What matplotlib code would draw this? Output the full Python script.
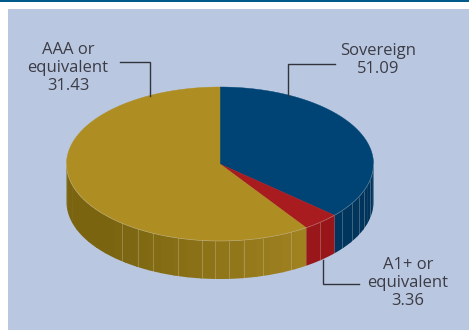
import numpy as np
import matplotlib
matplotlib.use('Agg')
import matplotlib.pyplot as plt
from matplotlib.colors import to_rgb
from matplotlib.patches import Polygon, Rectangle

plt.rcParams['font.family'] = ['Open Sans', 'DejaVu Sans']

# wedge order runs clockwise from 12 o'clock
wedge_values = [31.43, 3.36, 51.09]
wedge_names = ['blue', 'red', 'gold']
label_text = ['AAA or\nequivalent\n31.43', 'Sovereign\n51.09', 'A1+ or\nequivalent\n3.36']

top_colors = {'blue': '#004476', 'red': '#a81c20', 'gold': '#ae8d22'}
side_left = {'blue': '#003f6e', 'red': '#a3191d', 'gold': '#7a6410'}
side_right = {'blue': '#00345c', 'red': '#96161a', 'gold': '#a08220'}

# disc geometry in pixels
cx, cy = 220, 164
rx, ry = 153.5, 77
depth = 38

W, H = 469, 330
fig = plt.figure(figsize=(W/100, H/100), dpi=100, facecolor='white')
ax = fig.add_axes([0, 0, 1, 1])
ax.set_xlim(0, W)
ax.set_ylim(H, 0)
ax.axis('off')

ax.add_patch(Rectangle((0, 0), W, 2, color='#005a8c', lw=0))
ax.add_patch(Rectangle((8, 9), W-8, H-9, color='#b9c8e0', lw=0))

def rim(theta):
    # theta is clockwise from 12 o'clock, in degrees
    t = np.radians(theta)
    return cx + rx*np.sin(t), cy - ry*np.cos(t)

shares = np.array(wedge_values)/sum(wedge_values)*360
edges = np.concatenate([[0], np.cumsum(shares)])

# side wall: flat bands, each one overlapping the next so no gaps show.
# Walks the gold from the left end so the shade drifts across the front.
for i, name in enumerate(wedge_names):
    a0, a1 = max(edges[i], 90), min(edges[i+1], 270)
    if a1 <= a0:
        continue
    n_bands = max(int((a1-a0)/5), 1)
    steps = np.linspace(a0, a1, n_bands+1)
    order = range(n_bands) if name != 'gold' else range(n_bands-1, -1, -1)
    for b in order:
        s0, s1 = steps[b], steps[b+1]
        if name == 'gold':
            s0 = max(s0-0.6, a0)
        else:
            s1 = min(s1+0.6, a1)
        th = np.linspace(s0, s1, 12)
        xs, ys = rim(th)
        xm = xs.mean()
        f = (xm - (cx-rx))/(2*rx)
        if name == 'gold':
            f = np.clip((xm-110)/(307-110), 0, 1)
        col = (1-f)*np.array(to_rgb(side_left[name])) + f*np.array(to_rgb(side_right[name]))
        pts = np.column_stack([np.r_[xs, xs[::-1]], np.r_[ys, ys[::-1]+depth]])
        ax.add_patch(Polygon(pts, closed=True, fc=col, ec='none', lw=0))

# facet seams on the wall
seam_x = [122, 138, 153, 178, 202, 215, 229, 244, 263, 291, 320, 342, 352, 359, 364, 370]
for x in seam_x:
    t = np.arcsin((x-cx)/rx)
    y = cy + ry*np.cos(t)
    ax.plot([x, x], [y, y+depth], color='#d8d4c0', lw=0.6, alpha=0.35, solid_capstyle='butt')

# top face
for i, name in enumerate(wedge_names):
    th = np.linspace(edges[i], edges[i+1], 200)
    xs, ys = rim(th)
    pts = np.column_stack([np.r_[cx, xs], np.r_[cy, ys]])
    ax.add_patch(Polygon(pts, closed=True, fc=top_colors[name], ec=top_colors[name], lw=0.3))

# pale rim highlight along the front edge
xs, ys = rim(np.linspace(90, 270, 300))
ax.plot(xs, ys, color='#d0ccc0', lw=0.5, alpha=0.4)

# leader lines
line_col = '#33333b'
ax.plot([120, 149.5, 149.5], [62, 62, 96], color=line_col, lw=1.0, solid_joinstyle='miter')
ax.plot([335, 288, 288], [64, 64, 96], color=line_col, lw=1.0, solid_joinstyle='miter')
ax.plot([322.7, 322.7, 359], [260, 283.7, 283.7], color=line_col, lw=1.0, solid_joinstyle='miter')

text_col = '#3c3c46'
label_pos = [(68, 68), (378, 60), (408, 283)]
for s, (x, y) in zip(label_text, label_pos):
    ax.text(x, y, s, ha='center', va='center', fontsize=12, color=text_col, linespacing=1.15)

fig.savefig('out.png', dpi=100, facecolor='white')
